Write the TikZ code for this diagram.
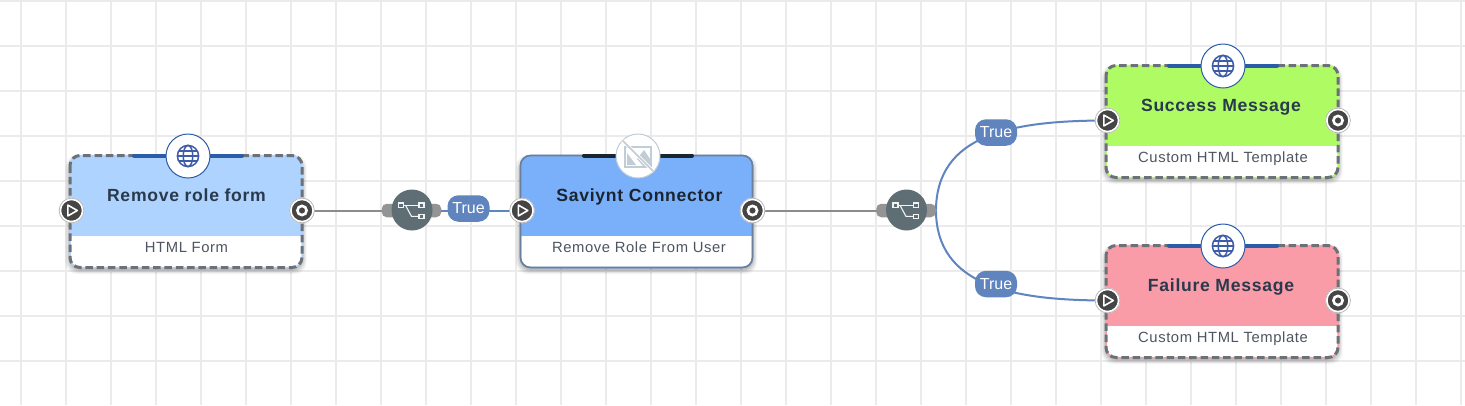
\documentclass[tikz,border=0pt]{standalone}
\usepackage{fontspec}
\setmainfont{Liberation Sans}
\newfontfamily\titlefont[LetterSpace=4]{Liberation Sans}
\newfontfamily\subfont[LetterSpace=4]{Liberation Sans}
\definecolor{gridc}{HTML}{EBEBEB}
\definecolor{wiregray}{HTML}{8C8C8C}
\definecolor{wireblue}{HTML}{5F85C0}
\definecolor{pillc}{HTML}{5F84BE}
\definecolor{gatec}{HTML}{5F6E75}
\definecolor{stubc}{HTML}{949494}
\definecolor{dashc}{HTML}{6C7177}
\definecolor{solidc}{HTML}{6A7F9C}
\definecolor{barblue}{HTML}{2B5CA8}
\definecolor{barblack}{HTML}{1A2530}
\definecolor{globec}{HTML}{3F5CA8}
\definecolor{portc}{HTML}{454545}
\definecolor{titlec}{HTML}{2A3A4D}
\definecolor{subc}{HTML}{4D5560}
\definecolor{hdra}{HTML}{AFD3FF}
\definecolor{hdrb}{HTML}{7AB0FA}
\definecolor{hdrc}{HTML}{AFFB63}
\definecolor{hdrd}{HTML}{FA9BA8}
\definecolor{noimg}{HTML}{C0CCD6}
\pgfdeclarelayer{gridlayer}
\pgfdeclarelayer{wirelayer}
\pgfsetlayers{gridlayer,wirelayer,main}
\tikzset{
  wiregrey/.style={draw=wiregray,line width=2pt},
  wirebl/.style={draw=wireblue,line width=2pt},
  pill/.style={fill=pillc,text=white,rounded corners=11pt,minimum width=42pt,minimum height=26.5pt,inner sep=0pt,font=\fontsize{16}{16}\selectfont},
  gatedisc/.style={circle,fill=gatec,minimum size=41pt,inner sep=0pt},
  stubbar/.style={fill=stubc,rounded corners=5pt,minimum width=59.5pt,minimum height=13.5pt,inner sep=0pt},
  titletext/.style={inner sep=0pt,text height=13pt,text depth=3pt,text=titlec,font=\fontsize{17.6}{18}\titlefont\bfseries},
  subtext/.style={inner sep=0pt,text height=11pt,text depth=3pt,text=subc,font=\fontsize{14.8}{16}\subfont},
  iconring/.style={circle,fill=white,minimum size=44pt,inner sep=0pt,line width=1pt},
  portnode/.style={circle,fill=portc,draw=white,line width=2.4pt,minimum size=23pt,inner sep=0pt},
  bodybox/.style={rounded corners=10pt,minimum width=232pt,minimum height=112pt,inner sep=0pt,fill=white},
  dashedge/.style={dashc,line width=3pt,dash pattern=on 7.5pt off 3.8pt},
}
% #1 name, #2 centre x, #3 top y, #4 header colour, #5 header height, #6 border opts, #7 bar colour, #8 icon x
\newcommand{\flowbox}[8]{%
  \foreach \sp/\op in {7/0.025,6/0.03,5/0.035,4/0.04,3/0.045,2/0.05,1/0.055}{
    \fill[black,opacity=\op,rounded corners=12pt] (#2-116-\sp*0.7,#3+4-\sp*0.7) rectangle (#2+116+\sp*0.7,#3+114+\sp*0.7);
  }
  \node[bodybox,draw=#4,line width=1.5pt] (#1) at (#2,#3+56) {};
  \begin{scope}
    \clip[rounded corners=10pt] (#2-116,#3) rectangle (#2+116,#3+112);
    \fill[#4] (#2-116,#3) rectangle (#2+116,#3+#5);
  \end{scope}
  \draw[rounded corners=10pt,#6] (#2-116,#3) rectangle (#2+116,#3+112);
  \draw[#7,line width=4pt,line cap=round] (#8-54,#3) -- (#8+54,#3);
  \node[portnode] (#1in) at (#2-114.5,#3+55) {};
  \node[portnode] (#1out) at (#2+116,#3+55) {};
  \draw[black!30,line width=0.7pt] (#1in) circle (12.4pt);
  \draw[black!30,line width=0.7pt] (#1out) circle (12.4pt);
  \draw[white,line width=1.6pt,line join=round] ([xshift=-3.6pt,yshift=5.4pt]#1in.center) -- ([xshift=5.8pt]#1in.center) -- ([xshift=-3.6pt,yshift=-5.4pt]#1in.center) -- cycle;
  \draw[white,line width=2.6pt] (#1out) circle (4.6pt);
}
\newcommand{\globeicon}[3]{%
  \node[iconring,draw=barblue] (#1) at (#2,#3) {};
  \begin{scope}[shift={(#2,#3)},globec,line width=1.5pt]
    \draw (0,0) circle (10.6pt);
    \draw (0,0) ellipse (4.8pt and 10.6pt);
    \draw (-10.6,0) -- (10.6,0);
    \draw (-9.2,-5) -- (9.2,-5);
    \draw (-9.2,5) -- (9.2,5);
  \end{scope}
}
\newcommand{\gateway}[3]{%
  \node[stubbar] (#1bar) at (#2-0.5,#3+0.5) {};
  \node[gatedisc] (#1) at (#2,#3) {};
  \begin{scope}[shift={(#2,#3)},draw=white!92!gatec,line width=1.1pt]
    \draw[fill=gatec] (-13.5,-7) rectangle (-8.5,-2.5);
    \draw[fill=gatec] (7,-7) rectangle (12,-2.5);
    \draw[fill=gatec] (7,4.2) rectangle (12,8.7);
    \draw (-8.5,-4.7) -- (7,-4.7);
    \draw (-6.5,-4.7) -- (-0.5,6.4) -- (7,6.4);
  \end{scope}
}
\begin{document}
\begin{tikzpicture}[x=1pt,y=-1pt]
\useasboundingbox (0,0) rectangle (1465,405);
\begin{pgfonlayer}{gridlayer}
  \fill[white] (0,0) rectangle (1465,405);
  \foreach \gx in {0,...,32}{
    \draw[gridc,line width=1.5pt] ({21+45*\gx},0) -- ({21+45*\gx},405);
  }
  \foreach \gy in {0,...,8}{
    \draw[gridc,line width=1.5pt] (0,{1+45*\gy}) -- (1465,{1+45*\gy});
  }
\end{pgfonlayer}

\flowbox{boxa}{186}{155.5}{hdra}{80}{dashedge}{barblue}{188}
\flowbox{boxb}{636.5}{155.5}{hdrb}{80}{solidc,line width=1.6pt}{barblack}{638}
\flowbox{boxc}{1222}{65.5}{hdrc}{80}{dashedge}{barblue}{1223}
\flowbox{boxd}{1222}{245.5}{hdrd}{80}{dashedge}{barblue}{1223}

\globeicon{icona}{188}{156}
\globeicon{iconc}{1223}{66}
\globeicon{icond}{1223}{246}

\node[iconring,draw=noimg] (iconb) at (638,156) {};
\begin{scope}[shift={(638,156)}]
  \draw[noimg,line width=1.4pt] (-13,-9) rectangle (13,11);
  \fill[noimg] (-11,9) -- (-11,-3) -- (-2,9) -- cycle;
  \fill[noimg] (-1,3) -- (6,-6) -- (12,3) -- (12,10) -- (5,10) -- cycle;
  \draw[white,line width=3.4pt] (-15.5,-15.5) -- (15.5,15.5);
  \draw[noimg,line width=1.5pt] (-15.5,-15.5) -- (15.5,15.5);
\end{scope}

\node[titletext] (titlea) at (186.5,196) {Remove role form};
\node[subtext] (suba) at (186.5,248.3) {HTML Form};
\node[titletext,text=barblack] (titleb) at (639.5,196) {Saviynt Connector};
\node[subtext] (subb) at (639,248.3) {Remove Role From User};
\node[titletext] (titlec) at (1221,106) {Success Message};
\node[subtext] (subc) at (1223,158.5) {Custom HTML Template};
\node[titletext] (titled) at (1221,286) {Failure Message};
\node[subtext] (subd) at (1223,338.5) {Custom HTML Template};

\gateway{gatea}{412}{210}
\gateway{gateb}{906.5}{210}

\node[pill] (pilla) at (468.5,208.5) {True};
\node[pill] (pillb) at (996,132.5) {True};
\node[pill] (pillc) at (996,284) {True};

\begin{pgfonlayer}{wirelayer}
  \draw[wiregrey] (boxaout.center) -- (gateabar.center);
  \draw[wirebl] (gateabar.center) -- (boxbin.center);
  \draw[wiregrey] (boxbout.center) -- (gatebbar.center);
  \draw[wirebl] (gatebbar.east) .. controls (936.5,135) and (1010,120.5) .. (boxcin.center);
  \draw[wirebl] (gatebbar.east) .. controls (936.5,285) and (1010,300.5) .. (boxdin.center);
\end{pgfonlayer}
\end{tikzpicture}
\end{document}
